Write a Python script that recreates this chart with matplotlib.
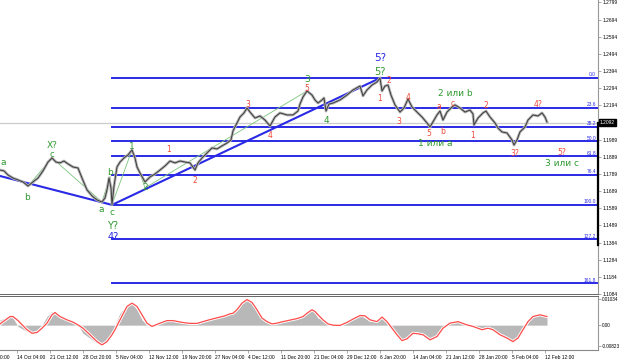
import matplotlib
matplotlib.use('Agg')
import matplotlib.pyplot as plt
import matplotlib.patheffects as pe
import numpy as np

# Price path (bar position, close)
price_x = [0, 4, 8, 13, 18, 23, 28, 33, 38, 43,
           48, 52, 56, 60, 64, 68, 73, 78, 82, 87,
           92, 97, 102, 105, 107, 109, 111, 112, 114, 117,
           120, 124, 128, 132, 135, 137, 140, 145, 150, 155,
           160, 165, 170, 175, 180, 185, 190, 195, 198, 202,
           207, 212, 217, 222, 227, 231, 233, 237, 240, 244,
           247, 250, 255, 260, 265, 270, 275, 280, 287, 293,
           298, 300, 303, 307, 312, 315, 318, 322, 324, 326,
           329, 333, 340, 347, 353, 360, 363, 367, 372, 377,
           380, 382, 385, 388, 391, 395, 400, 404, 408, 412,
           417, 422, 427, 430, 433, 437, 440, 443, 447, 452,
           455, 460, 465, 470, 473, 474, 478, 483, 486, 490,
           495, 498, 502, 507, 512, 514, 517, 520, 525, 528,
           533, 538, 542, 545, 547]
price_close = [1.1813, 1.1808, 1.1784, 1.1766, 1.1755, 1.1743, 1.1719, 1.1743, 1.1766, 1.1808,
               1.1860, 1.1884, 1.1860, 1.1855, 1.1866, 1.1849, 1.1831, 1.1825, 1.1766, 1.1696,
               1.1661, 1.1637, 1.1625, 1.1649, 1.1696, 1.1766, 1.1708, 1.1610, 1.1719, 1.1831,
               1.1860, 1.1884, 1.1902, 1.1931, 1.1884, 1.1831, 1.1796, 1.1743, 1.1772, 1.1790,
               1.1813, 1.1837, 1.1866, 1.1855, 1.1866, 1.1860, 1.1855, 1.1813, 1.1855, 1.1884,
               1.1913, 1.1943, 1.1937, 1.1955, 1.1972, 1.1990, 1.2043, 1.2090, 1.2125, 1.2149,
               1.2178, 1.2154, 1.2119, 1.2131, 1.2107, 1.2072, 1.2125, 1.2149, 1.2137, 1.2137,
               1.2160, 1.2201, 1.2243, 1.2278, 1.2254, 1.2225, 1.2207, 1.2225, 1.2237, 1.2160,
               1.2201, 1.2207, 1.2225, 1.2254, 1.2284, 1.2307, 1.2249, 1.2284, 1.2313, 1.2331,
               1.2354, 1.2278, 1.2307, 1.2313, 1.2254, 1.2196, 1.2154, 1.2178, 1.2231, 1.2184,
               1.2154, 1.2125, 1.2090, 1.2066, 1.2096, 1.2137, 1.2160, 1.2107, 1.2154, 1.2184,
               1.2196, 1.2178, 1.2154, 1.2166, 1.2143, 1.2078, 1.2119, 1.2149, 1.2160, 1.2125,
               1.2090, 1.2060, 1.2037, 1.2031, 1.1990, 1.1960, 1.1990, 1.2037, 1.2066, 1.2107,
               1.2137, 1.2131, 1.2149, 1.2125, 1.2096]
last_price = 1.2092

# Fibonacci grid
fib_high = 1.2354
fib_low = 1.1608
fib_ratios = [0.0, 23.6, 38.2, 50.0, 61.8, 76.4, 100.0, 127.2, 161.8]
fib_start = 112

# Blue trend lines
trend_x = [0, 112, 380]
trend_p = [1.1778, fib_low, fib_high]

# thin green wave connectors
green_x = [28, 52, 102, 110, 112, 132, 145, 307]
green_p = [1.1719, 1.1884, 1.1625, 1.1776, 1.1610, 1.1931, 1.1708, 1.2278]

price_ticks = [1.2799, 1.2694, 1.2594, 1.2494, 1.2394, 1.2294, 1.2194, 1.1989,
               1.1889, 1.1789, 1.1689, 1.1589, 1.1489, 1.1384, 1.1284, 1.1184, 1.1084]

time_x = [17, 50, 83, 116, 149, 182, 215, 248, 281, 314, 347, 380, 413, 446, 479, 512, 545]
time_labels = ['14 Oct 04:00', '21 Oct 12:00', '28 Oct 20:00', '5 Nov 04:00', '12 Nov 12:00',
               '19 Nov 20:00', '27 Nov 04:00', '4 Dec 12:00', '11 Dec 20:00', '21 Dec 04:00',
               '29 Dec 12:00', '6 Jan 20:00', '14 Jan 04:00', '21 Jan 12:00', '28 Jan 20:00',
               '5 Feb 04:00', '12 Feb 12:00']
first_time_x = -16
first_time_label = '7 Oct 20:00'

# Oscillator (units of 1e-4)
osc_x = [0, 10, 13, 18, 27, 32, 37, 42, 47, 52,
         55, 60, 67, 73, 78, 83, 90, 97, 102, 107,
         112, 115, 120, 127, 132, 137, 142, 147, 152, 160,
         167, 173, 182, 190, 197, 203, 210, 220, 225, 230,
         233, 237, 242, 247, 252, 257, 262, 267, 272, 277,
         283, 290, 297, 303, 308, 312, 315, 318, 323, 328,
         333, 340, 347, 353, 360, 365, 370, 377, 382, 387,
         392, 397, 402, 407, 413, 418, 423, 430, 437, 443,
         450, 458, 467, 473, 482, 488, 493, 500, 507, 513,
         518, 523, 528, 533, 540, 547]
osc_hist = [21, 34, 28, -5, -25, -32, -18, 1, 34, 54,
            47, 28, 21, 14, 1, -32, -51, -71, -78, -58,
            -32, 1, 47, 80, 87, 61, 21, 1, 1, 8,
            21, 24, 14, 11, 5, 14, 28, 34, 45, 41,
            54, 74, 94, 103, 94, 61, 34, 14, 5, 14,
            21, 24, 28, 34, 54, 61, 47, 28, 21, 8,
            -3, 1, 14, 28, 41, 28, 14, 21, 34, 8,
            -18, -45, -58, -45, -32, -34, -38, -55, -42, -5,
            11, 14, 1, -8, -18, -13, -18, -38, -51, -68,
            -51, -16, 14, 34, 45, 37]
osc_signal = [5, 34, 34, 18, -18, -32, -29, -12, 8, 41,
              50, 34, 21, 12, 1, -12, -38, -65, -78, -65,
              -38, -18, 21, 74, 87, 74, 41, 8, -5, 8,
              18, 18, 11, 7, 7, 14, 22, 32, 37, 45,
              47, 61, 87, 101, 90, 61, 28, 14, 5, 8,
              14, 20, 26, 34, 50, 61, 54, 41, 21, 5,
              0, -1, 11, 24, 38, 37, 21, 14, 32, 14,
              -12, -38, -61, -54, -32, -34, -38, -58, -45, -12,
              8, 14, 1, -5, -18, -12, -18, -38, -51, -65,
              -51, -18, 14, 34, 41, 34]
osc_ticks = [0.01034, 0.0, -0.00823]
osc_tick_labels = ['0.01034', '0.00', '-0.00823']

GREEN = '#2f9a2f'
RED = '#f04a3a'
BLUE = '#2a2ae6'

# wave labels: (text, bar, price, colour, size)
waves = [
    ('a', 3, 1.1855, GREEN, 6.5), ('b', 27, 1.1649, GREEN, 6.5),
    ('X?', 52, 1.1960, GREEN, 6.5), ('c', 52, 1.1902, GREEN, 6.0),
    ('b', 110, 1.1796, GREEN, 6.5), ('a', 101, 1.1578, GREEN, 6.5),
    ('c', 112, 1.1566, GREEN, 6.5), ('Y?', 113, 1.1484, GREEN, 7),
    ('4?', 113, 1.1419, BLUE, 7), ('1', 132, 1.1949, GREEN, 6.5),
    ('2', 145, 1.1708, GREEN, 6.5), ('3', 307, 1.2343, GREEN, 6.5),
    ('4', 326, 1.2102, GREEN, 6.5), ('5?', 380, 1.2390, GREEN, 7),
    ('5?', 380, 1.2472, BLUE, 7.5), ('2 или b', 455, 1.2262, GREEN, 6.5),
    ('1 или а', 435, 1.1972, GREEN, 6.5), ('3 или с', 562, 1.1849, GREEN, 6.5),
    ('1', 169, 1.1931, RED, 5.5), ('2', 195, 1.1749, RED, 5.5),
    ('3', 248, 1.2201, RED, 5.5), ('4', 270, 1.2019, RED, 5.5),
    ('5', 307, 1.2290, RED, 5.5), ('1', 380, 1.2231, RED, 5.5),
    ('2', 389, 1.2337, RED, 5.5), ('3', 399, 1.2096, RED, 5.5),
    ('4', 408, 1.2237, RED, 5.5), ('5', 429, 1.2025, RED, 5.5),
    ('a', 439, 1.2184, RED, 5.5), ('b', 443, 1.2037, RED, 5.5),
    ('c', 453, 1.2204, RED, 5.5), ('1', 473, 1.2019, RED, 5.5),
    ('2', 486, 1.2190, RED, 5.5), ('3?', 515, 1.1913, RED, 5.5),
    ('4?', 538, 1.2201, RED, 5.5), ('5?', 562, 1.1919, RED, 5.5),
]

SMALL = dict(family='Liberation Sans', fontsize=3.5)

fig = plt.figure(figsize=(6.2, 3.61), dpi=100)
ax = fig.add_axes([0, 0.1856, 0.9645, 0.8144])
osc = fig.add_axes([0, 0.0305, 0.9645, 0.1496])

ax.set_xlim(0, 598)
ax.set_ylim(1.1084, 1.2813)

# current price line
ax.axhline(last_price, color='#cccccc', lw=0.9, zorder=1)

# fib levels
rng = fib_high - fib_low
for r in fib_ratios:
    lvl = fib_high - rng * r / 100.0
    ax.plot([fib_start, 598], [lvl, lvl], color=BLUE, lw=1.4, zorder=2)
    ax.text(596, lvl + 0.0004, '%.1f' % r, color=BLUE, ha='right', va='bottom', **SMALL)

ax.plot(trend_x, trend_p, color=BLUE, lw=1.5, zorder=3)
ax.plot(green_x, green_p, color='#7cc47c', lw=0.6, zorder=3)

# price bars look: soft band + dark line
ax.plot(price_x, price_close, color='#b4b4b4', lw=2.0, zorder=4, solid_joinstyle='round')
ax.plot(price_x, price_close, color='#3c3c3c', lw=0.7, zorder=5)

for txt, x, p, c, s in waves:
    ax.text(x, p, txt, color=c, fontsize=s, ha='center', va='center', zorder=6)

ax.yaxis.tick_right()
ax.set_yticks(price_ticks)
ax.set_yticklabels(['%.4f' % t for t in price_ticks], **SMALL)
ax.tick_params(axis='y', length=2, width=0.5, color='#888888', pad=1.2)
ax.tick_params(axis='x', bottom=False, labelbottom=False)
ax.text(600, last_price, '%.4f' % last_price, color='white', va='center', ha='left',
        bbox=dict(boxstyle='square,pad=0.25', fc='black', ec='black'), clip_on=False, **SMALL)
ax.plot([598, 598], [last_price, 1.1370], color='black', lw=1.6, clip_on=False, zorder=7)

for s in ['left', 'top']:
    ax.spines[s].set_visible(False)
ax.spines['right'].set_color('#999999')
ax.spines['right'].set_linewidth(0.8)
ax.spines['bottom'].set_color('#666666')
ax.spines['bottom'].set_linewidth(0.7)

# oscillator
ox = np.array(osc_x)
oh = np.array(osc_hist) * 1e-4
osig = np.array(osc_signal) * 1e-4
osc.set_xlim(0, 598)
osc.set_ylim(-0.00981, 0.01153)
osc.fill_between(ox, 0, oh, color='#b8b8b8', lw=0)
osc.plot(ox, osig, color='#ff4a4a', lw=0.9,
         path_effects=[pe.Stroke(linewidth=2.2, foreground='white'), pe.Normal()])
osc.yaxis.tick_right()
osc.set_yticks(osc_ticks)
osc.set_yticklabels(osc_tick_labels, family='Liberation Sans', fontsize=3.3)
osc.tick_params(axis='y', length=2, width=0.5, color='#888888', pad=1.0)
osc.set_xticks(time_x)
osc.set_xticklabels(time_labels, ha='left', **SMALL)
osc.tick_params(axis='x', length=2, width=0.5, color='#888888', pad=1.5)
osc.annotate(first_time_label, xy=(first_time_x, 0), xycoords=('data', 'axes fraction'),
             xytext=(0, -3.5), textcoords='offset points', ha='left', va='top',
             annotation_clip=False, **SMALL)
osc.spines['left'].set_visible(False)
osc.spines['top'].set_color('#666666')
osc.spines['top'].set_linewidth(0.7)
osc.spines['right'].set_color('#999999')
osc.spines['bottom'].set_color('#888888')
osc.spines['right'].set_linewidth(0.8)

fig.savefig('out.png', dpi=100)
